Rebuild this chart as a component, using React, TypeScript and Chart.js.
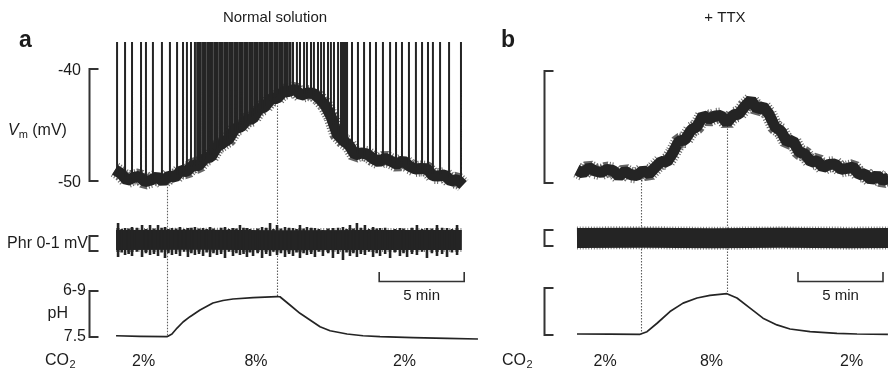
import React, { useEffect, useRef } from 'react';
import { Chart, registerables } from 'chart.js';

Chart.register(...registerables);

// ---------------- data (time in minutes from start of each record) ----------------
// Panel a: membrane potential trace (mV)
const vmTraceA: number[][] = [
  [0.06, -49.0], [0.41, -49.33], [0.76, -49.95], [1.12, -49.7], [1.47, -49.58], [1.82, -50.06],
  [2.18, -49.91], [2.53, -49.64], [2.88, -50.03], [3.24, -49.53], [3.59, -49.67], [3.94, -49.06],
  [4.29, -49.15], [4.65, -48.59], [5.0, -48.63], [5.35, -47.95], [5.71, -47.86], [6.06, -46.94],
  [6.41, -46.61], [6.76, -46.25], [7.12, -45.31], [7.47, -45.18], [7.82, -44.53], [8.18, -44.43],
  [8.53, -43.55], [8.88, -43.39], [9.24, -42.61], [9.59, -42.63], [9.94, -42.04], [10.29, -42.0],
  [10.65, -41.79], [11.0, -42.35], [11.35, -42.15], [11.71, -42.17], [12.06, -42.61], [12.41, -43.21],
  [12.76, -44.2], [13.12, -45.8], [13.47, -46.38], [13.82, -46.77], [14.18, -47.68], [14.53, -47.5],
  [14.88, -47.59], [15.24, -48.0], [15.59, -48.29], [15.94, -47.95], [16.29, -48.23], [16.65, -48.52],
  [17.0, -48.18], [17.35, -48.64], [17.71, -48.93], [18.06, -48.88], [18.41, -48.91], [18.76, -49.54],
  [19.12, -49.55], [19.47, -49.45], [19.82, -50.02], [20.18, -49.87], [20.53, -50.36],
];
// Panel a: action potentials [time, take-off potential] (tops clipped in the figure)
const spikesA: number[][] = [
  [0.18, -49.38], [0.65, -49.64], [1.06, -49.78], [1.59, -49.87], [1.88, -49.88], [2.29, -49.91],
  [2.82, -49.77], [3.29, -49.58], [3.71, -49.42], [4.06, -49.26], [4.29, -49.06], [4.53, -48.87],
  [4.76, -48.66], [4.94, -48.5], [5.06, -48.39], [5.24, -48.18], [5.35, -48.04], [5.53, -47.82],
  [5.65, -47.68], [5.76, -47.52], [5.94, -47.28], [6.06, -47.12], [6.24, -46.88], [6.35, -46.7],
  [6.53, -46.43], [6.65, -46.25], [6.82, -45.98], [6.94, -45.82], [7.12, -45.58], [7.24, -45.42],
  [7.41, -45.18], [7.53, -45.02], [7.71, -44.78], [7.82, -44.62], [8.0, -44.38], [8.12, -44.23],
  [8.29, -44.02], [8.41, -43.88], [8.59, -43.66], [8.71, -43.52], [8.88, -43.3], [9.0, -43.16],
  [9.18, -42.95], [9.29, -42.8], [9.47, -42.59], [9.59, -42.45], [9.76, -42.23], [9.88, -42.16],
  [10.06, -42.05], [10.18, -41.98], [10.35, -41.88], [10.53, -41.92], [10.76, -42.01], [10.94, -42.05],
  [11.18, -42.16], [11.35, -42.24], [11.59, -42.32], [11.76, -42.37], [12.0, -42.41], [12.18, -42.68],
  [12.35, -43.04], [12.59, -43.84], [12.76, -44.46], [12.94, -45.09], [13.18, -45.71], [13.35, -46.03],
  [13.44, -46.16], [13.53, -46.38], [13.62, -46.52], [13.71, -46.79], [14.0, -47.23], [14.35, -47.53],
  [14.71, -47.71], [15.06, -47.86], [15.41, -47.98], [15.82, -48.09], [16.24, -48.21], [16.59, -48.32],
  [16.94, -48.43], [17.35, -48.55], [17.76, -48.82], [18.12, -49.04], [18.47, -49.24], [18.76, -49.36],
  [19.18, -49.5], [19.71, -49.71], [20.41, -50.13],
];
const spikeClipMvA = -37.6;
// Panel a: lower edge of the densely firing period (merged spikes reach the clip level)
const burstFloorA: number[][] = [
  [4.8, -48.55], [5.94, -47.28], [7.12, -45.58], [8.29, -44.02], [9.47, -42.59], [10.45, -41.9],
];
// Panel a: phrenic nerve activity (mV): baseline band and bursts [time, low, high]
const phrBandA: number[][] = [[0.12, 0.73], [5, 0.75], [10, 0.72], [15, 0.74], [20.46, 0.73]];
const phrBurstsA: number[][] = [
  [0.24, -0.4, 1.87], [0.65, -0.27, 1.53], [1.06, -0.33, 1.6], [1.65, -0.4, 1.73], [2.12, -0.27, 1.73],
  [2.59, -0.33, 1.73], [3.0, -0.47, 1.6], [3.41, -0.27, 1.53], [3.88, -0.33, 1.6], [4.35, -0.4, 1.53],
  [4.76, -0.27, 1.6], [5.24, -0.33, 1.53], [5.65, -0.4, 1.6], [6.06, -0.27, 1.4], [6.53, -0.47, 1.6],
  [7.0, -0.33, 1.53], [7.41, -0.27, 1.73], [7.82, -0.4, 1.53], [8.18, -0.33, 1.4], [8.71, -0.47, 1.6],
  [9.18, -0.33, 1.87], [9.59, -0.27, 1.73], [10.06, -0.4, 1.6], [10.53, -0.33, 1.53], [10.94, -0.47, 1.73],
  [11.35, -0.27, 1.6], [11.82, -0.4, 1.53], [12.29, -0.33, 1.4], [12.88, -0.47, 1.53], [13.47, -0.6, 1.6],
  [13.88, -0.33, 1.73], [14.29, -0.4, 1.87], [14.76, -0.27, 1.73], [15.24, -0.4, 1.6], [15.65, -0.33, 1.53],
  [16.24, -0.47, 1.4], [16.82, -0.33, 1.53], [17.24, -0.4, 1.4], [17.82, -0.27, 1.73], [18.41, -0.47, 1.53],
  [19.0, -0.33, 1.73], [19.59, -0.4, 1.53], [20.18, -0.27, 1.73],
  [0.45, -0.1, 1.47], [0.86, -0.2, 1.5], [1.35, -0.05, 1.55], [1.88, -0.15, 1.47], [2.35, -0.2, 1.5],
  [2.8, -0.1, 1.55], [3.2, -0.15, 1.47], [3.65, -0.2, 1.5], [4.12, -0.05, 1.47], [4.55, -0.15, 1.55],
  [5.0, -0.2, 1.5], [5.45, -0.1, 1.47], [5.85, -0.15, 1.5], [6.3, -0.2, 1.55], [6.76, -0.05, 1.47],
  [7.2, -0.15, 1.5], [7.62, -0.2, 1.55], [8.0, -0.1, 1.47], [8.45, -0.15, 1.5], [8.95, -0.2, 1.55],
  [9.38, -0.05, 1.47], [9.82, -0.15, 1.5], [10.3, -0.2, 1.55], [10.74, -0.1, 1.47], [11.15, -0.15, 1.5],
  [11.6, -0.2, 1.55], [12.05, -0.05, 1.47], [12.6, -0.15, 1.5], [13.18, -0.2, 1.55], [13.68, -0.1, 1.47],
  [14.08, -0.15, 1.5], [14.52, -0.2, 1.55], [15.0, -0.05, 1.47], [15.45, -0.15, 1.5], [15.95, -0.2, 1.55],
  [16.52, -0.1, 1.47], [17.03, -0.15, 1.5], [17.53, -0.2, 1.55], [18.12, -0.05, 1.47], [18.7, -0.15, 1.5],
  [19.3, -0.2, 1.55], [19.88, -0.1, 1.47],
];
// Panel a: extracellular pH
const phTraceA: number[][] = [
  [0.12, 7.484], [1.53, 7.491], [3.12, 7.496], [3.41, 7.461], [3.71, 7.383], [4.06, 7.304],
  [4.47, 7.235], [5.06, 7.148], [5.82, 7.057], [6.41, 7.024], [7.0, 7.004], [8.18, 6.987],
  [9.59, 6.974], [9.76, 6.975], [10.35, 7.083], [10.94, 7.191], [11.53, 7.278], [12.12, 7.366],
  [12.71, 7.418], [13.71, 7.461], [14.65, 7.484], [15.65, 7.496], [17.59, 7.509], [19.59, 7.517],
  [21.41, 7.526],
];

// Panel b (+TTX)
const vmTraceB: number[][] = [
  [0.0, -48.84], [0.35, -49.11], [0.71, -48.62], [1.06, -48.93], [1.41, -49.06], [1.76, -48.79],
  [2.12, -48.88], [2.47, -49.4], [2.82, -48.95], [3.18, -49.27], [3.53, -49.33], [3.88, -48.88],
  [4.24, -49.2], [4.59, -48.62], [4.94, -48.08], [5.29, -48.13], [5.65, -47.28], [6.0, -46.25],
  [6.35, -46.16], [6.71, -45.27], [7.06, -44.96], [7.41, -43.97], [7.76, -44.29], [8.12, -44.02],
  [8.47, -43.97], [8.82, -44.64], [9.18, -43.93], [9.53, -43.84], [9.88, -43.13], [10.24, -42.59],
  [10.59, -43.39], [10.94, -43.17], [11.29, -43.84], [11.65, -45.0], [12.0, -45.36], [12.35, -46.34],
  [12.71, -46.2], [13.06, -47.23], [13.41, -47.41], [13.76, -48.13], [14.12, -47.99], [14.47, -48.62],
  [14.82, -48.35], [15.18, -48.3], [15.53, -48.79], [15.88, -48.7], [16.24, -48.57], [16.59, -49.24],
  [16.94, -49.2], [17.29, -49.73], [17.65, -49.33], [18.0, -49.78], [18.35, -49.55],
];
const phrBandB: number[][] = [[0.0, 0.5], [4, 0.52], [8, 0.48], [12, 0.51], [16, 0.49], [18.4, 0.5]];
const phTraceB: number[][] = [
  [0.0, 7.487], [1.94, 7.49], [3.71, 7.491], [4.12, 7.458], [4.71, 7.35], [5.47, 7.201],
  [6.24, 7.093], [7.06, 7.028], [7.82, 6.995], [8.82, 6.973], [9.41, 7.028], [10.18, 7.157],
  [10.94, 7.285], [11.76, 7.371], [12.53, 7.423], [13.71, 7.458], [15.29, 7.478], [16.47, 7.487],
  [18.29, 7.491],
];

// Markers, ticks and labels
const markerTimesA = [3.1, 9.57];
const markerVmA = [-49.7, -42.46];
const markerPhA = [7.496, 6.974];
const markerTimesB = [3.75, 8.84];
const markerVmB = [-49.2, -44.6];
const markerPhB = [7.491, 6.973];
const vmBracket = [-50, -40];
const phrBracket = [0, 1];
const phBracket = [7.5, 6.9];
const vmTickValues = [-40, -50];
const vmTickLabels = ['-40', '-50'];
const phTickValues = [6.9, 7.5];
const phTickLabels = ['6-9', '7.5'];
const co2Levels = ['2%', '8%', '2%'];
const co2LabelTimesA = [1.74, 8.35, 17.09];
const co2LabelTimesB = [1.65, 7.91, 16.15];
const scaleBarMinutes = 5;
const scaleBarStartA = 15.6;
const scaleBarStartB = 13.0;

// ---------------- layout / style ----------------
const W = 888;
const H = 370;
const PX_PER_MIN = 17;
const T0_PX_A = 114;
const T0_PX_B = 577;
const FONT = '"Liberation Sans", Arial, Helvetica, sans-serif';
const INK = '#242424';
const TEXT = '#1c1c1c';

function axisRange(v1: number, p1: number, v2: number, p2: number, size: number) {
  const k = (p2 - p1) / (v2 - v1);
  const a = v1 + (0 - p1) / k;
  const b = v1 + (size - p1) / k;
  return { min: Math.min(a, b), max: Math.max(a, b) };
}

const pts = (rows: number[][]) => rows.map(([x, y]) => ({ x, y }));
const segs = (rows: number[][]) =>
  rows.flatMap(([x, lo, hi]) => [{ x, y: lo }, { x, y: hi }, { x, y: null as any }]);
const spikeSegs = (rows: number[][], top: number) =>
  rows.flatMap(([x, base]) => [{ x, y: base }, { x, y: top }, { x, y: null as any }]);

function line(data: any[], xAxisID: string, yAxisID: string, extra: any = {}) {
  return {
    type: 'line',
    data,
    xAxisID,
    yAxisID,
    borderColor: INK,
    backgroundColor: INK,
    pointRadius: 0,
    tension: 0,
    fill: false,
    spanGaps: false,
    borderCapStyle: 'butt',
    borderJoinStyle: 'round',
    ...extra,
  };
}

function drawText(ctx: CanvasRenderingContext2D, txt: string, x: number, y: number, size: number, align: CanvasTextAlign, weight = 'normal', style = 'normal') {
  ctx.font = `${style} ${weight} ${size}px ${FONT}`;
  ctx.textAlign = align;
  ctx.fillText(txt, x, y);
}

function drawBracket(ctx: CanvasRenderingContext2D, x: number, y1: number, y2: number, arm: number) {
  ctx.beginPath();
  ctx.moveTo(x + arm, y1);
  ctx.lineTo(x, y1);
  ctx.lineTo(x, y2);
  ctx.lineTo(x + arm, y2);
  ctx.stroke();
}

const annotations = {
  id: 'annotations',
  beforeDatasetsDraw(chart: any) {
    const ctx: CanvasRenderingContext2D = chart.ctx;
    const s = chart.scales;
    ctx.save();
    // merged spikes during the dense firing period (panel a)
    ctx.fillStyle = 'rgba(30,30,30,0.8)';
    ctx.beginPath();
    burstFloorA.forEach(([t, v], i) => {
      const px = s.xa.getPixelForValue(t);
      const py = s.yVmA.getPixelForValue(v);
      if (i === 0) ctx.moveTo(px, py);
      else ctx.lineTo(px, py);
    });
    const last = burstFloorA[burstFloorA.length - 1][0];
    const first = burstFloorA[0][0];
    ctx.lineTo(s.xa.getPixelForValue(last), s.yVmA.getPixelForValue(spikeClipMvA));
    ctx.lineTo(s.xa.getPixelForValue(first), s.yVmA.getPixelForValue(spikeClipMvA));
    ctx.closePath();
    ctx.fill();

    // dotted markers
    ctx.strokeStyle = '#5e5e5e';
    ctx.lineWidth = 1.1;
    ctx.setLineDash([1.5, 1.5]);
    const panels = [
      { x: s.xa, vm: s.yVmA, ph: s.yPhA, t: markerTimesA, v: markerVmA, p: markerPhA },
      { x: s.xb, vm: s.yVmB, ph: s.yPhB, t: markerTimesB, v: markerVmB, p: markerPhB },
    ];
    panels.forEach((pn) => {
      pn.t.forEach((t, i) => {
        const px = Math.round(pn.x.getPixelForValue(t)) + 0.5;
        ctx.beginPath();
        ctx.moveTo(px, pn.vm.getPixelForValue(pn.v[i]));
        ctx.lineTo(px, pn.ph.getPixelForValue(pn.p[i]));
        ctx.stroke();
      });
    });
    ctx.restore();
  },
  afterDatasetsDraw(chart: any) {
    const ctx: CanvasRenderingContext2D = chart.ctx;
    const s = chart.scales;
    ctx.save();
    ctx.strokeStyle = '#333';
    ctx.lineWidth = 2;
    ctx.setLineDash([]);
    // brackets
    [
      { bx: 89.5, vm: s.yVmA, phr: s.yPhrA, ph: s.yPhA },
      { bx: 544.5, vm: s.yVmB, phr: s.yPhrB, ph: s.yPhB },
    ].forEach((b) => {
      drawBracket(ctx, b.bx, b.vm.getPixelForValue(vmBracket[1]), b.vm.getPixelForValue(vmBracket[0]), 9);
      drawBracket(ctx, b.bx, b.phr.getPixelForValue(phrBracket[1]), b.phr.getPixelForValue(phrBracket[0]), 9);
      drawBracket(ctx, b.bx, b.ph.getPixelForValue(phBracket[1]), b.ph.getPixelForValue(phBracket[0]), 9);
    });
    // scale bars
    ctx.lineWidth = 1.6;
    [
      { x: s.xa, t: scaleBarStartA },
      { x: s.xb, t: scaleBarStartB },
    ].forEach((sb) => {
      const x1 = sb.x.getPixelForValue(sb.t);
      const x2 = sb.x.getPixelForValue(sb.t + scaleBarMinutes);
      ctx.beginPath();
      ctx.moveTo(x1, 272);
      ctx.lineTo(x1, 281.5);
      ctx.lineTo(x2, 281.5);
      ctx.lineTo(x2, 272);
      ctx.stroke();
      ctx.fillStyle = TEXT;
      ctx.textBaseline = 'middle';
      drawText(ctx, `${scaleBarMinutes} min`, (x1 + x2) / 2, 296, 15, 'center');
    });

    ctx.fillStyle = TEXT;
    ctx.textBaseline = 'middle';
    // titles
    drawText(ctx, 'Normal solution', 275, 18, 15, 'center');
    drawText(ctx, '+ TTX', 725, 18, 15, 'center');
    ctx.textBaseline = 'alphabetic';
    drawText(ctx, 'a', 19, 47, 23, 'left', 'bold');
    drawText(ctx, 'b', 501, 47, 23, 'left', 'bold');
    ctx.textBaseline = 'middle';
    // Vm ticks (panel a)
    vmTickValues.forEach((v, i) => {
      drawText(ctx, vmTickLabels[i], 81, s.yVmA.getPixelForValue(v) + 1.5, 16, 'right');
    });
    // Vm axis title
    ctx.font = `italic normal 16px ${FONT}`;
    ctx.textAlign = 'left';
    ctx.fillText('V', 8, 131);
    const wv = ctx.measureText('V').width;
    ctx.font = `normal normal 11px ${FONT}`;
    ctx.fillText('m', 8 + wv, 135);
    const wm = ctx.measureText('m').width;
    ctx.font = `normal normal 16px ${FONT}`;
    ctx.fillText(' (mV)', 8 + wv + wm, 131);
    // Phr label
    drawText(ctx, 'Phr 0-1 mV', 88, 244, 16, 'right');
    // pH ticks
    phTickValues.forEach((v, i) => {
      drawText(ctx, phTickLabels[i], 86, s.yPhA.getPixelForValue(v), 16, 'right');
    });
    drawText(ctx, 'pH', 68, 313.5, 16, 'right');
    // CO2 rows
    [
      { x: s.xa, left: 45, times: co2LabelTimesA },
      { x: s.xb, left: 502, times: co2LabelTimesB },
    ].forEach((row) => {
      ctx.font = `normal normal 16px ${FONT}`;
      ctx.textAlign = 'left';
      ctx.fillText('CO', row.left, 361);
      const w = ctx.measureText('CO').width;
      ctx.font = `normal normal 11px ${FONT}`;
      ctx.fillText('2', row.left + w + 0.5, 365);
      row.times.forEach((t, i) => {
        drawText(ctx, co2Levels[i], row.x.getPixelForValue(t), 362, 16, 'center');
      });
    });
    ctx.restore();
  },
};

export default function App() {
  const ref = useRef<HTMLCanvasElement>(null);
  useEffect(() => {
    document.body.style.margin = '0';
    const canvas = ref.current;
    if (!canvas) return;

    const xRange = (t0px: number) => ({ min: -t0px / PX_PER_MIN, max: (W - t0px) / PX_PER_MIN });
    const lin = (r: { min: number; max: number }, extra: any = {}) => ({
      type: 'linear',
      display: false,
      bounds: 'data',
      offset: false,
      grace: 0,
      min: r.min,
      max: r.max,
      ...extra,
    });

    const fringe = (alpha: number) => ({
      borderDash: [1, 1.8],
      borderColor: `rgba(36,36,36,${alpha})`,
      borderJoinStyle: 'bevel',
    });

    const datasets: any[] = [
      // panel a (first listed = drawn on top)
      line(spikeSegs(spikesA, spikeClipMvA), 'xa', 'yVmA', { borderWidth: 2, borderJoinStyle: 'miter' }),
      line(pts(vmTraceA), 'xa', 'yVmA', { borderWidth: 11, borderJoinStyle: 'bevel' }),
      line(pts(vmTraceA), 'xa', 'yVmA', { borderWidth: 16, ...fringe(0.7) }),
      line(segs(phrBurstsA), 'xa', 'yPhrA', { borderWidth: 2.6 }),
      line(pts(phrBandA), 'xa', 'yPhrA', { borderWidth: 20 }),
      line(pts(phrBandA), 'xa', 'yPhrA', { borderWidth: 24, ...fringe(0.6) }),
      line(pts(phTraceA), 'xa', 'yPhA', { borderWidth: 1.7 }),
      // panel b
      line(pts(vmTraceB), 'xb', 'yVmB', { borderWidth: 11, borderJoinStyle: 'bevel' }),
      line(pts(vmTraceB), 'xb', 'yVmB', { borderWidth: 16, ...fringe(0.7) }),
      line(pts(phrBandB), 'xb', 'yPhrB', { borderWidth: 20 }),
      line(pts(phrBandB), 'xb', 'yPhrB', { borderWidth: 23, ...fringe(0.6) }),
      line(pts(phTraceB), 'xb', 'yPhB', { borderWidth: 1.7 }),
    ];

    const chart = new Chart(canvas, {
      type: 'line',
      data: { datasets },
      options: {
        animation: false,
        responsive: false,
        devicePixelRatio: 1,
        events: [],
        layout: { padding: 0 },
        plugins: {
          legend: { display: false },
          title: { display: false },
          tooltip: { enabled: false },
        },
        scales: {
          xa: lin(xRange(T0_PX_A)),
          xb: lin(xRange(T0_PX_B)),
          yVmA: lin(axisRange(-40, 69, -50, 181, H)),
          yVmB: lin(axisRange(-40, 71, -50, 183, H)),
          yPhrA: lin(axisRange(1, 236, 0, 251, H)),
          yPhrB: lin(axisRange(1, 230, 0, 246, H)),
          yPhA: lin(axisRange(6.9, 291, 7.5, 337, H), { reverse: true }),
          yPhB: lin(axisRange(6.9, 288, 7.5, 335, H), { reverse: true }),
        },
      } as any,
      plugins: [annotations as any],
    } as any);

    return () => chart.destroy();
  }, []);

  return <canvas ref={ref} width={W} height={H} style={{ display: 'block', width: W, height: H }} />;
}
